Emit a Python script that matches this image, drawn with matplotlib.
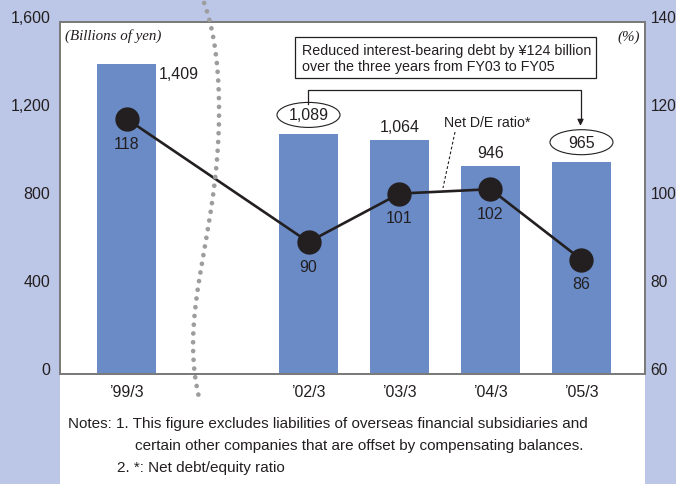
import numpy as np
import matplotlib
matplotlib.use('Agg')
import matplotlib.pyplot as plt
import matplotlib.transforms as mtransforms
from matplotlib.patches import Rectangle, Ellipse
from matplotlib.lines import Line2D

# ---- data -------------------------------------------------------------------
periods = ['\u201999/3', '\u201902/3', '\u201903/3', '\u201904/3', '\u201905/3']
slots = [0, 2, 3, 4, 5]                 # gap after '99/3 (years 00-01 skipped)
debt = [1409, 1089, 1064, 946, 965]     # billions of yen
de_ratio = [118, 90, 101, 102, 86]      # net D/E ratio, %
debt_ticks = [0, 400, 800, 1200, 1600]
ratio_ticks = [60, 80, 100, 120, 140]

W, H = 676, 485
BG = '#bcc6e6'
BAR = '#6a8bc6'
INK = '#231f20'
GRAY = '#7a7a7a'
FONT = 'Liberation Sans'


def fx(x):
    return x / W


def fy(y):
    return 1 - y / H


fig = plt.figure(figsize=(W / 100, H / 100), dpi=100, facecolor=BG)
plt.rcParams['font.family'] = FONT

# white panel behind chart and notes
fig.patches.append(Rectangle((fx(60), 0), fx(645) - fx(60), fy(23), transform=fig.transFigure,
                             facecolor='white', edgecolor='none', zorder=-1))

ax = fig.add_axes([fx(60), fy(375), fx(645) - fx(60), fy(23) - fy(375)])
ax.set_facecolor('none')
ax.bar(slots, debt, width=0.65, color=BAR, zorder=2)
ax.set_xlim(-0.731, 5.698)
ax.set_ylim(0, 1600)
ax.set_yticks(debt_ticks)
ax.set_yticklabels([f'{v:,}' for v in debt_ticks])
ax.set_xticks(slots)
ax.set_xticklabels(periods)
ax.tick_params(length=0, labelsize=11.5, labelcolor=INK)
ax.tick_params(axis='x', pad=7)
ax.tick_params(axis='y', pad=7)
for s in ax.spines.values():
    s.set_color(GRAY)
    s.set_linewidth(1.3)

ax2 = ax.twinx()
ax2.set_ylim(60, 140)
ax2.set_yticks(ratio_ticks)
ax2.tick_params(length=0, labelsize=11.2, labelcolor=INK, pad=4)
for s in ax2.spines.values():
    s.set_color(GRAY)
    s.set_linewidth(1.3)
ax2.plot(slots, de_ratio, color=INK, lw=1.9, marker='o', ms=16.5, zorder=3)

# y tick labels sit slightly above their gridline level in the original
shift = mtransforms.ScaledTranslation(0, 6 / 100, fig.dpi_scale_trans)
for lab in ax.get_yticklabels() + ax2.get_yticklabels():
    lab.set_transform(lab.get_transform() + shift)

# bar value labels
ax.annotate(f'{debt[0]:,}', (slots[0] + 0.325, debt[0]), xytext=(2, -7), textcoords='offset points',
            ha='left', va='center', fontsize=11.5, color=INK)
for i in (2, 3):
    ax.annotate(f'{debt[i]:,}', (slots[i], debt[i]), xytext=(0, 9.5), textcoords='offset points',
                ha='center', va='center', fontsize=11.5, color=INK)
for i in (1, 4):
    anchor = fig.dpi_scale_trans + mtransforms.ScaledTranslation(slots[i], debt[i], ax.transData)
    ax.add_patch(Ellipse((0, 0.195), 0.63, 0.25, transform=anchor, facecolor='white',
                         edgecolor=INK, lw=0.8, zorder=4, clip_on=False))
    ax.text(0, 0.195, f'{debt[i]:,}', transform=anchor, ha='center', va='center',
            fontsize=11.5, color=INK, zorder=5)

# ratio labels below markers
for x, v in zip(slots, de_ratio):
    ax2.annotate(f'{v}', (x, v), xytext=(0, -17.5), textcoords='offset points',
                 ha='center', va='center', fontsize=11.5, color=INK, zorder=4)

# unit labels
fig.text(fx(65), fy(36), '(Billions of yen)', family='Liberation Serif', style='italic',
         fontsize=10.8, color=INK, va='center', ha='left')
fig.text(fx(640), fy(37), '(%)', family='Liberation Serif', style='italic',
         fontsize=10.8, color=INK, va='center', ha='right')

# callout box and bracket
fig.patches.append(Rectangle((fx(295), fy(79)), fx(596) - fx(295), fy(38) - fy(79),
                             transform=fig.transFigure, facecolor='white', edgecolor=INK, lw=0.9))
fig.text(fx(302), fy(59), 'Reduced interest-bearing debt by \u00a5124 billion\n'
         'over the three years from FY03 to FY05', fontsize=10.3, color=INK,
         va='center', ha='left', linespacing=1.25)
fig.lines.append(Line2D([fx(308), fx(308), fx(580.5), fx(580.5)], [fy(104.5), fy(91), fy(91), fy(123)],
                        transform=fig.transFigure, color=INK, lw=0.9))
ax.annotate('', xy=(fx(580.5), fy(129.5)), xytext=(fx(580.5), fy(118)),
            xycoords='figure fraction', textcoords='figure fraction',
            arrowprops=dict(arrowstyle='-|>', color=INK, lw=0.9, mutation_scale=9))

# Net D/E ratio leader
fig.text(fx(444), fy(123), 'Net D/E ratio*', fontsize=10.2, color=INK, va='center', ha='left')
fig.lines.append(Line2D([fx(455), fx(443)], [fy(133), fy(189)], transform=fig.transFigure,
                        color=INK, lw=0.8, ls=(0, (2.5, 2))))

# dotted break curve between '99/3 and '02/3
cy = np.array([4, 22, 50, 80, 110, 150, 175, 195, 220, 260, 290, 320, 340, 365, 390, 398])
cx = np.array([204, 210, 215, 218, 219, 218, 216, 213, 209, 203, 198, 194, 193, 194, 197, 199])
coef = np.polyfit(cy, cx, 6)
yy = np.linspace(4, 398, 300)
xx = np.polyval(coef, yy)
fig.lines.append(Line2D(fx(xx), fy(yy), transform=fig.transFigure, color='#9d9d9d', lw=3.4,
                        ls=(0, (0.01, 1.85)), dash_capstyle='round', zorder=1))

# notes
fig.text(fx(68), fy(424), 'Notes: 1. This figure excludes liabilities of overseas financial subsidiaries and',
         fontsize=11, color=INK, va='center', ha='left')
fig.text(fx(135), fy(446), 'certain other companies that are offset by compensating balances.',
         fontsize=11, color=INK, va='center', ha='left')
fig.text(fx(117), fy(468), '2. *: Net debt/equity ratio', fontsize=11, color=INK, va='center', ha='left')

fig.savefig('out.png', dpi=100, facecolor=BG)
